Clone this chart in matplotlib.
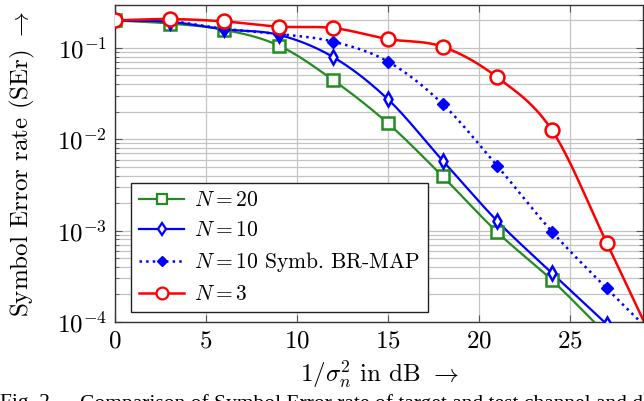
import numpy as np
import matplotlib
matplotlib.use("Agg")
import matplotlib.pyplot as plt
from matplotlib.ticker import LogLocator, NullFormatter, FixedLocator

plt.rcParams['font.family'] = ['cmr10', 'DejaVu Serif']
plt.rcParams['mathtext.fontset'] = 'cm'
plt.rcParams['axes.unicode_minus'] = False
plt.rcParams['axes.formatter.use_mathtext'] = True

# ---- data ----
snr = [0, 3, 6, 9, 12, 15, 18, 21, 24, 27]
snr_ext = [0, 3, 6, 9, 12, 15, 18, 21, 24, 27, 30]
ser_n20 = [0.2, 0.185, 0.158, 0.106, 0.0442, 0.0149, 3.92e-3, 9.6e-4, 2.87e-4, 7.3e-5]
ser_n10 = [0.2, 0.193, 0.16, 0.139, 0.079, 0.0273, 5.83e-3, 1.27e-3, 3.43e-4, 9.5e-5]
ser_n10_br = [0.2, 0.196, 0.162, 0.142, 0.117, 0.0707, 0.0243, 5.09e-3, 9.75e-4, 2.34e-4, 6.0e-5]
ser_n3 = [0.2, 0.207, 0.195, 0.171, 0.165, 0.125, 0.103, 0.0476, 0.01256, 7.4e-4, 4.0e-5]

labels = ['$N=20$', '$N=10$', '$N=10$ Symb. BR-MAP', '$N=3$']
xticks = [0, 5, 10, 15, 20, 25]


def smooth(x, y, n=20):
    """Catmull-Rom curve through the points in (x, log10 y) space (rendering only)."""
    x = np.asarray(x, float)
    ly = np.log10(np.asarray(y, float))
    P = np.column_stack([x, ly])
    P = np.vstack([2 * P[0] - P[1], P, 2 * P[-1] - P[-2]])
    out = []
    for i in range(1, len(P) - 2):
        p0, p1, p2, p3 = P[i - 1], P[i], P[i + 1], P[i + 2]
        t = np.linspace(0, 1, n, endpoint=False)[:, None]
        c = 0.5 * ((2 * p1) + (-p0 + p2) * t + (2 * p0 - 5 * p1 + 4 * p2 - p3) * t ** 2
                   + (-p0 + 3 * p1 - 3 * p2 + p3) * t ** 3)
        out.append(c)
    out.append(P[-2][None, :])
    C = np.vstack(out)
    return C[:, 0], 10 ** C[:, 1]


fig = plt.figure(figsize=(6.44, 4.01), dpi=100)
ax = fig.add_axes([115 / 644, 1 - 322 / 401, 528 / 644, 317 / 401])

green = '#228b22'
blue = '#0000ff'
red = '#ff0000'

series = [
    (snr, ser_n20, green, 's', '-', 'white', 9, 1.6),
    (snr, ser_n10, blue, 'd', '-', 'white', 7.5, 1.6),
    (snr_ext, ser_n10_br, blue, 'D', ':', blue, 6.5, 1.8),
    (snr_ext, ser_n3, red, 'o', '-', 'white', 10, 1.8),
]
handles = []
for (x, y, col, mk, ls, fc, ms, lw), lab in zip(series, labels):
    sx, sy = smooth(x, y)
    ax.plot(sx, sy, color=col, ls=ls, lw=lw, zorder=3)
    ax.plot(x, y, ls='none', marker=mk, color=col, mfc=fc, mec=col, ms=ms,
            mew=1.8 if mk != 'D' else 1.0, zorder=4, clip_on=True)
    h, = ax.plot([], [], color=col, ls=ls, lw=lw, marker=mk, mfc=fc, mec=col,
                 ms=ms * 0.85, mew=1.6 if mk != 'D' else 1.0)
    handles.append(h)

ax.set_yscale('log')
ax.set_xlim(0, 29)
ax.set_ylim(1e-4, 0.295)
ax.xaxis.set_major_locator(FixedLocator(xticks))
ax.yaxis.set_major_locator(LogLocator(base=10, numticks=10))
ax.yaxis.set_minor_locator(LogLocator(base=10, subs=np.arange(2, 10), numticks=20))
ax.yaxis.set_minor_formatter(NullFormatter())

ax.grid(True, which='major', axis='both', color='#c4c4c4', lw=0.9, zorder=0)
ax.grid(True, which='minor', axis='y', color='#c4c4c4', lw=0.9, zorder=0)
ax.set_axisbelow(True)

ax.tick_params(which='both', direction='in', top=True, right=True, color='#555555')
ax.tick_params(which='major', length=5, width=0.8, labelsize=18, pad=6)
ax.tick_params(which='minor', length=3, width=0.6)
for s in ax.spines.values():
    s.set_linewidth(1.0)
    s.set_color('#333333')

ax.set_ylabel('Symbol Error rate (SEr) $\\rightarrow$', fontsize=18, labelpad=14)
ax.set_xlabel('$1/\\sigma_n^2$ in dB $\\rightarrow$', fontsize=18, labelpad=5)

leg = ax.legend(handles, labels, loc='lower left', bbox_to_anchor=(0.03, 0.03),
                borderaxespad=0, fontsize=15.5, frameon=True, fancybox=False,
                handlelength=2.1, handletextpad=0.45, labelspacing=0.48,
                borderpad=0.38)
leg.get_frame().set_edgecolor('#222222')
leg.get_frame().set_linewidth(1.0)
leg.get_frame().set_alpha(1)

fig.text(0.0, 1 - 394 / 401, 'Fig. 2.', fontsize=15.5,
         family='Liberation Serif', va='top', ha='left')
fig.text(80 / 644, 1 - 394 / 401,
         'Comparison of Symbol Error rate of target and test channel and d',
         fontsize=15.5, family='Liberation Serif', va='top', ha='left')

fig.savefig('out.png', dpi=100)
